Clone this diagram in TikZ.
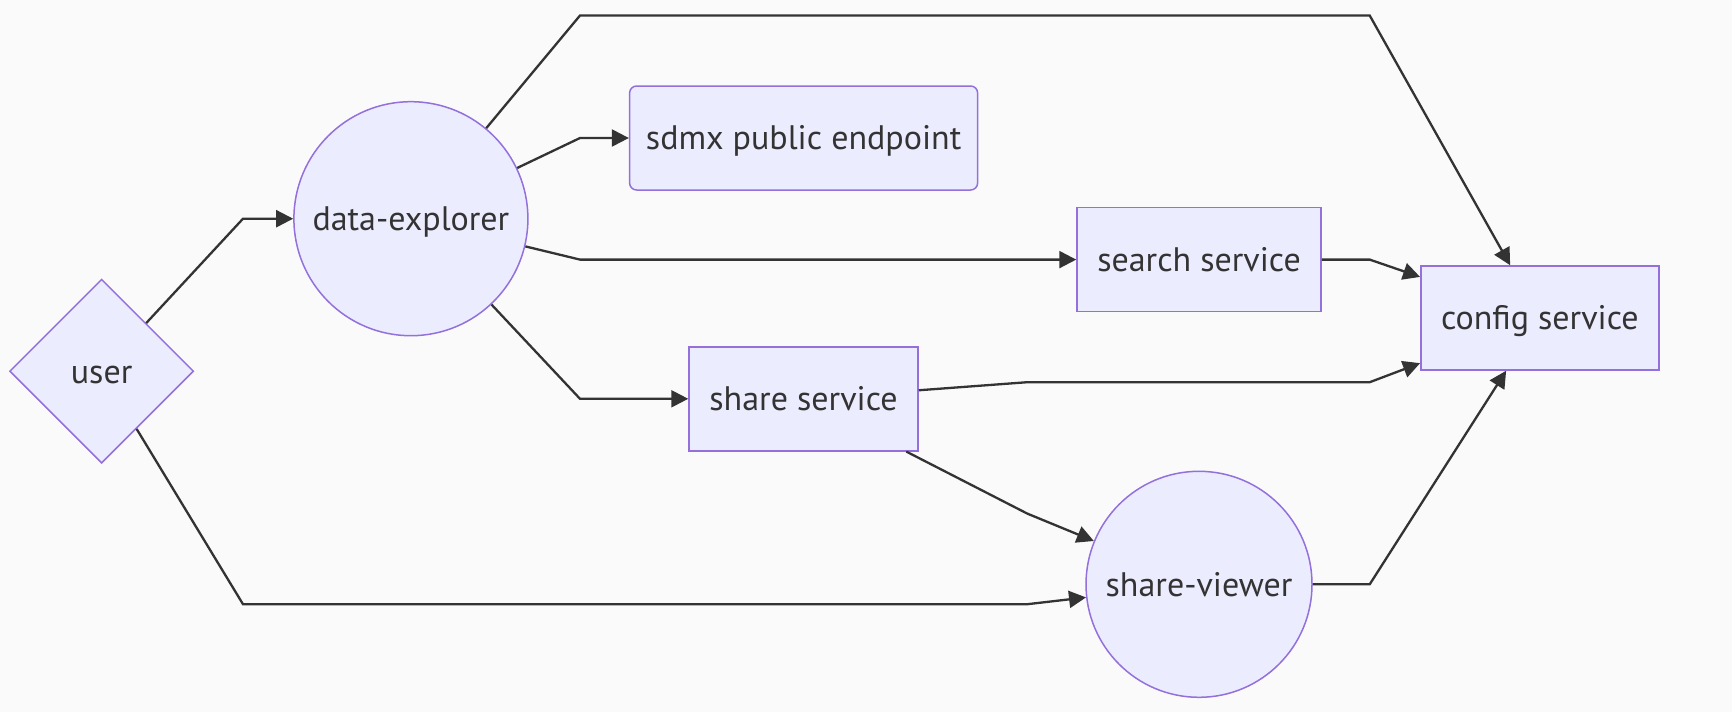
\documentclass[tikz,border=0pt]{standalone}
\usepackage{fontspec}
\setmainfont{PT Sans}
\usepackage{xcolor}
\usetikzlibrary{shapes.geometric, arrows.meta}

\definecolor{nodefill}{HTML}{ECECFF}
\definecolor{nodeline}{HTML}{9370DB}
\definecolor{edgeline}{HTML}{333333}
\definecolor{bgcolor}{HTML}{FAFAFA}

\begin{document}
\begin{tikzpicture}[
    x=0.5pt, y=-0.5pt,
    font=\fontsize{17}{20}\selectfont,
    base/.style={draw=nodeline, line width=0.75pt, fill=nodefill, text=edgeline, align=center, inner sep=0pt, text height=11.8pt, text depth=0pt},
    block/.style={base, rectangle, minimum height=52pt},
    hub/.style={base, circle},
    decision/.style={base, diamond, minimum width=92pt, minimum height=92pt},
    arrow/.style={-{Triangle[length=8.5pt, width=8.5pt]}, line width=1.15pt, draw=edgeline}
]

    % --- 背景 ---
    \fill [bgcolor] (0,0) rectangle (1732,712);
    \useasboundingbox (0,0) rectangle (1732,712);

    % --- 节点定义 ---
    \node [decision] (user) at (101.6,371.2) {user};
    \node [hub, minimum size=117pt] (explorer) at (410.9,218.7) {data-explorer};
    \node [block, rounded corners=3.5pt, minimum width=174pt] (sdmx) at (803.6,138) {sdmx public endpoint};
    \node [block, minimum width=122pt] (search) at (1199,259.6) {search service};
    \node [block, minimum width=114.5pt] (share) at (803.5,398.8) {share service};
    \node [block, minimum width=119pt] (config) at (1539.8,318) {config service};
    \node [hub, minimum size=113pt] (viewer) at (1199,584.3) {share-viewer};

    % --- 连线逻辑 ---
    \draw [arrow] (user) -- (243,218.7) -- (explorer);
    \draw [arrow] (user) -- (243,604.2) -- (1027.3,604.2) -- (viewer);

    % data-explorer 出发
    \draw [arrow] (explorer) -- (580,15.5) -- (1369.7,15.5) -- (config);
    \draw [arrow] (explorer) -- (580,138) -- (sdmx);
    \draw [arrow] (explorer) -- (580,259.6) -- (search);
    \draw [arrow] (explorer) -- (580,398.8) -- (share);

    % 汇总到 config service
    \draw [arrow] (search) -- (1369.7,259.6) -- (config);
    \draw [arrow] (share) -- (1027.3,382.2) -- (1369.7,382.2) -- (config);
    \draw [arrow] (share) -- (1027.3,513.6) -- (viewer);
    \draw [arrow] (viewer) -- (1369.7,584.3) -- (config);

\end{tikzpicture}
\end{document}
